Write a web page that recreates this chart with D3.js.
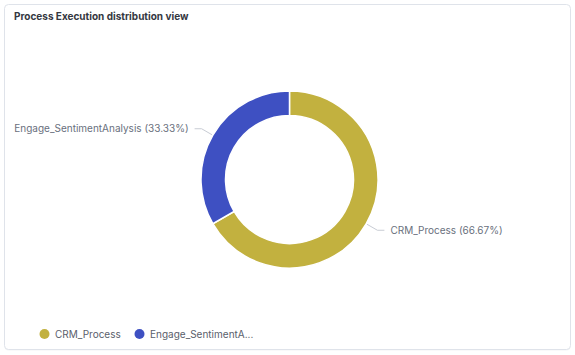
<!DOCTYPE html>
<html><head><meta charset="utf-8">
<script src="https://cdn.jsdelivr.net/npm/d3@7"></script>
<style>
html,body{margin:0;padding:0;background:#fff;}
svg{display:block;font-family:Inter,"Noto Sans",sans-serif;}
</style></head>
<body><svg id="c" width="575" height="355"></svg>
<script>
const categories = ["CRM_Process", "Engage_SentimentAnalysis"];
const values = [66.67, 33.33];
const legendLabels = ["CRM_Process", "Engage_SentimentA..."];
const colors = ["#c2b13f", "#3e50c2"];
const title = "Process Execution distribution view";

const svg = d3.select("#c");
svg.append("rect").attr("x",4.5).attr("y",5.5).attr("width",566).attr("height",345)
  .attr("rx",4).attr("fill","#f3f4f6");
svg.append("rect").attr("x",4.5).attr("y",4.5).attr("width",566).attr("height",345)
  .attr("rx",4).attr("fill","#fff").attr("stroke","#dfe3ea");
svg.append("text").attr("x",14).attr("y",19.5).attr("font-size",10).attr("font-weight",700)
  .attr("fill","#343741").text(title);

const cx = 289.5, cy = 179.5, rOuter = 88.5, rInner = 64;
const g = svg.append("g").attr("transform",`translate(${cx},${cy})`);
const data = categories.map((c,i)=>({name:c, value:values[i], color:colors[i]}));
const pie = d3.pie().sort(null).value(d=>d.value);
const arc = d3.arc().innerRadius(rInner).outerRadius(rOuter);
const arcs = pie(data);
g.selectAll("path").data(arcs).enter().append("path")
  .attr("d",arc).attr("fill",d=>d.data.color).attr("stroke","#fff").attr("stroke-width",1.5);

// labels with leader lines
const lineArc = d3.arc().innerRadius(rOuter+1).outerRadius(rOuter+1);
const elbowArc = d3.arc().innerRadius(rOuter+13).outerRadius(rOuter+13);
arcs.forEach((a,i)=>{
  const mid = (a.startAngle+a.endAngle)/2;
  const p0 = lineArc.centroid(a);
  const p1 = elbowArc.centroid(a);
  const right = Math.sin(mid) > 0;
  const p2 = [p1[0] + (right?7:-7), p1[1]];
  g.append("polyline").attr("points",[p0,p1,p2].map(p=>p.join(",")).join(" "))
    .attr("fill","none").attr("stroke","#c8ccd4").attr("stroke-width",1);
  g.append("text").attr("x",p2[0] + (right?6:-6)).attr("y",p2[1])
    .attr("dy","0.35em").attr("text-anchor",right?"start":"end")
    .attr("font-size",10).attr("fill","#69707d")
    .text(`${a.data.name} (${a.data.value.toFixed(2)}%)`);
});

// legend
const lg = svg.append("g").attr("transform","translate(44.5,334)");
const offsets = [0, 95];
legendLabels.forEach((l,i)=>{
  lg.append("circle").attr("cx",offsets[i]).attr("cy",0).attr("r",5).attr("fill",colors[i]);
  lg.append("text").attr("x",offsets[i]+10.5).attr("y",0).attr("dy","0.35em")
    .attr("font-size",10).attr("fill","#5a606b").text(l);
});
</script></body></html>
